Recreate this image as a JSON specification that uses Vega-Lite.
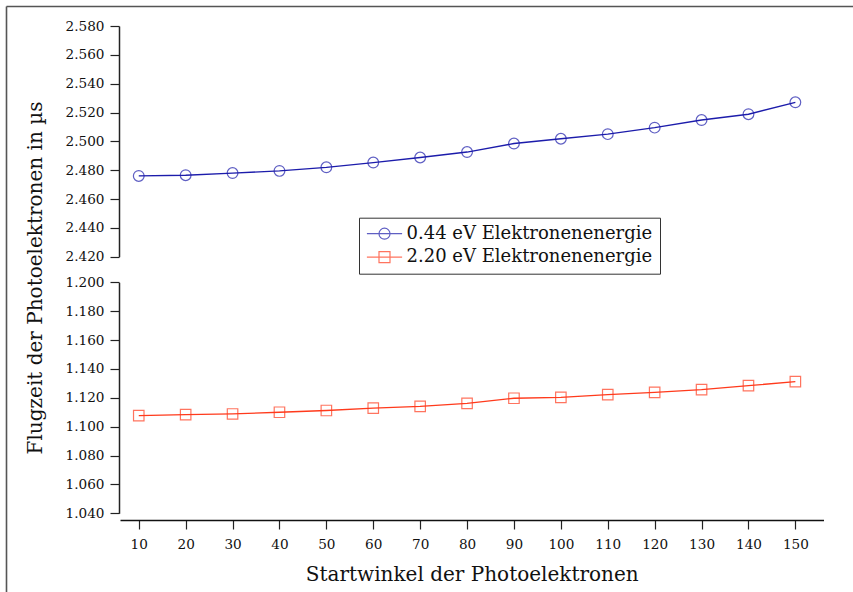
{
  "$schema": "https://vega.github.io/schema/vega-lite/v6.json",
  "autosize": "none",
  "width": 847,
  "height": 586,
  "padding": {"left": 6, "top": 6, "right": 0, "bottom": 0},
  "background": "white",
  "config": {
    "font": "DejaVu Serif",
    "view": {"stroke": null},
    "axis": {"labelFont": "DejaVu Serif", "titleFont": "DejaVu Serif", "labelColor": "#111", "titleColor": "#111", "grid": false}
  },
  "data": {
    "values": [
      {"angle": 10, "time": 2.4760, "series": "0.44 eV Elektronenenergie"},
      {"angle": 20, "time": 2.4765, "series": "0.44 eV Elektronenenergie"},
      {"angle": 30, "time": 2.4780, "series": "0.44 eV Elektronenenergie"},
      {"angle": 40, "time": 2.4795, "series": "0.44 eV Elektronenenergie"},
      {"angle": 50, "time": 2.4820, "series": "0.44 eV Elektronenenergie"},
      {"angle": 60, "time": 2.4853, "series": "0.44 eV Elektronenenergie"},
      {"angle": 70, "time": 2.4888, "series": "0.44 eV Elektronenenergie"},
      {"angle": 80, "time": 2.4926, "series": "0.44 eV Elektronenenergie"},
      {"angle": 90, "time": 2.4985, "series": "0.44 eV Elektronenenergie"},
      {"angle": 100, "time": 2.5018, "series": "0.44 eV Elektronenenergie"},
      {"angle": 110, "time": 2.5050, "series": "0.44 eV Elektronenenergie"},
      {"angle": 120, "time": 2.5095, "series": "0.44 eV Elektronenenergie"},
      {"angle": 130, "time": 2.5148, "series": "0.44 eV Elektronenenergie"},
      {"angle": 140, "time": 2.5188, "series": "0.44 eV Elektronenenergie"},
      {"angle": 150, "time": 2.5271, "series": "0.44 eV Elektronenenergie"},
      {"angle": 10, "time": 1.1076, "series": "2.20 eV Elektronenenergie"},
      {"angle": 20, "time": 1.1083, "series": "2.20 eV Elektronenenergie"},
      {"angle": 30, "time": 1.1088, "series": "2.20 eV Elektronenenergie"},
      {"angle": 40, "time": 1.1100, "series": "2.20 eV Elektronenenergie"},
      {"angle": 50, "time": 1.1112, "series": "2.20 eV Elektronenenergie"},
      {"angle": 60, "time": 1.1129, "series": "2.20 eV Elektronenenergie"},
      {"angle": 70, "time": 1.1141, "series": "2.20 eV Elektronenenergie"},
      {"angle": 80, "time": 1.1162, "series": "2.20 eV Elektronenenergie"},
      {"angle": 90, "time": 1.1197, "series": "2.20 eV Elektronenenergie"},
      {"angle": 100, "time": 1.1203, "series": "2.20 eV Elektronenenergie"},
      {"angle": 110, "time": 1.1222, "series": "2.20 eV Elektronenenergie"},
      {"angle": 120, "time": 1.1238, "series": "2.20 eV Elektronenenergie"},
      {"angle": 130, "time": 1.1256, "series": "2.20 eV Elektronenenergie"},
      {"angle": 140, "time": 1.1284, "series": "2.20 eV Elektronenenergie"},
      {"angle": 150, "time": 1.1312, "series": "2.20 eV Elektronenenergie"}
    ]
  },
  "layer": [
    {
      "encoding": {
        "x": {"field": "angle", "type": "quantitative", "scale": {"domain": [6, 156], "range": [114, 817.5], "nice": false, "zero": false}, "axis": null},
        "y": {"field": "time", "type": "quantitative", "scale": {"domain": [2.42, 2.58], "range": [250.7, 20], "nice": false, "zero": false},
          "axis": {"orient": "left", "offset": -113, "values": [2.42, 2.44, 2.46, 2.48, 2.5, 2.52, 2.54, 2.56, 2.58], "format": ".3f",
            "tickSize": 9, "tickColor": "#222", "tickWidth": 1.2, "domainColor": "#222", "domainWidth": 1.5, "labelFontSize": 13.6, "labelPadding": 6,
            "title": "Flugzeit der Photoelektronen in µs", "titleFontSize": 20, "titleFontWeight": "normal", "titleX": -78, "titleY": 271.5, "titleAngle": -90, "titleAlign": "center", "titleBaseline": "alphabetic"}},
        "color": {"field": "series", "type": "nominal",
          "scale": {"domain": ["0.44 eV Elektronenenergie", "2.20 eV Elektronenenergie"], "range": ["#1c1cab", "#ff3a1c"]},
          "legend": {"orient": "none", "legendX": 353, "legendY": 211.7, "title": null, "strokeColor": "#333", "fillColor": "white",
            "padding": 7, "symbolSize": 121, "symbolOffset": 9.5, "labelOffset": 13, "symbolStrokeWidth": 1.2, "symbolFillColor": "transparent",
            "labelFont": "DejaVu Serif", "labelFontSize": 18, "labelColor": "#111", "rowPadding": 5.5, "labelLimit": 400}
        }
      },
      "layer": [
        {"transform": [{"filter": "datum.series == '0.44 eV Elektronenenergie'"}], "mark": {"type": "line", "strokeWidth": 1.3}},
        {"transform": [{"filter": "datum.series == '0.44 eV Elektronenenergie'"}], "mark": {"type": "point", "shape": "circle", "filled": false, "size": 115, "strokeWidth": 1.2, "color": "#2a2ac0"}},
        {"mark": {"type": "point", "filled": false, "size": 0, "strokeWidth": 1.2},
          "encoding": {"shape": {"field": "series", "type": "nominal", "scale": {"domain": ["0.44 eV Elektronenenergie", "2.20 eV Elektronenenergie"], "range": ["M-3.2,0H3.2M-1,0A1,1,0,1,1,1,0A1,1,0,1,1,-1,0", "M-3.2,0H3.2M-1,-1H1V1H-1Z"]}}}}
      ]
    },
    {
      "transform": [{"filter": "datum.series == '2.20 eV Elektronenenergie'"}],
      "encoding": {
        "x": {"field": "angle", "type": "quantitative", "scale": {"domain": [6, 156], "range": [114, 817.5], "nice": false, "zero": false},
          "axis": {"orient": "bottom", "offset": -72, "values": [10, 20, 30, 40, 50, 60, 70, 80, 90, 100, 110, 120, 130, 140, 150],
            "tickSize": 9, "tickColor": "#222", "tickWidth": 1.2, "domainColor": "#111", "domainWidth": 1.5, "labelFontSize": 13.6, "labelPadding": 8,
            "title": "Startwinkel der Photoelektronen", "titleFontSize": 20, "titleFontWeight": "normal", "titlePadding": 14}},
        "y": {"field": "time", "type": "quantitative", "scale": {"domain": [1.04, 1.2], "range": [507.3, 276.3], "nice": false, "zero": false},
          "axis": {"orient": "left", "offset": -113, "values": [1.04, 1.06, 1.08, 1.1, 1.12, 1.14, 1.16, 1.18, 1.2], "format": ".3f",
            "tickSize": 9, "tickColor": "#222", "tickWidth": 1.2, "domainColor": "#222", "domainWidth": 1.5, "labelFontSize": 13.6, "labelPadding": 6, "title": null}},
        "color": {"field": "series", "type": "nominal"}
      },
      "layer": [
        {"mark": {"type": "line", "strokeWidth": 1.3}},
        {"mark": {"type": "point", "shape": "square", "filled": false, "size": 110, "strokeWidth": 1.2, "color": "#ff4a30"}}
      ]
    },
    {
      "mark": {"type": "point", "opacity": 0},
      "encoding": {
        "x": {"field": "angle", "type": "quantitative", "scale": {"domain": [0, 1], "nice": false, "zero": false},
          "axis": {"orient": "top", "offset": 0, "ticks": false, "labels": false, "title": null, "domainColor": "#555", "domainWidth": 1.6}},
        "y": {"field": "time", "type": "quantitative", "scale": {"domain": [0, 1], "nice": false, "zero": false},
          "axis": {"orient": "left", "offset": 0, "ticks": false, "labels": false, "title": null, "domainColor": "#555", "domainWidth": 1.6}}
      }
    }
  ],
  "resolve": {"scale": {"x": "independent", "y": "independent"}}
}
